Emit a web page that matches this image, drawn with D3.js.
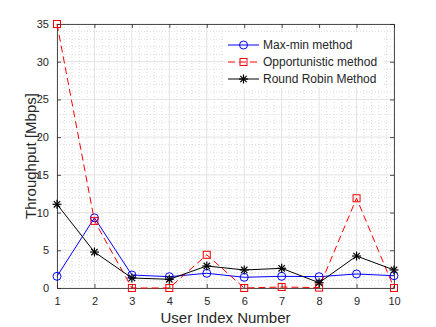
<!DOCTYPE html>
<html>
<head>
<meta charset="utf-8">
<script src="https://cdn.jsdelivr.net/npm/d3@7"></script>
<style>
  body { margin: 0; background: #fff; }
  text { font-family: "Liberation Sans", Arial, sans-serif; fill: #262626; }
</style>
</head>
<body>
<svg id="chart" width="436" height="327"></svg>
<script>
const users = [1, 2, 3, 4, 5, 6, 7, 8, 9, 10];
const maxMin = [1.55, 9.3, 1.72, 1.5, 1.95, 1.42, 1.55, 1.5, 1.86, 1.63];
const opportunistic = [35, 8.9, 0, 0, 4.4, 0, 0.13, 0.05, 11.9, 0];
const roundRobin = [11.1, 4.77, 1.33, 1.15, 2.92, 2.39, 2.61, 0.7, 4.24, 2.39];
const yTicks = [0, 5, 10, 15, 20, 25, 30, 35];

const margin = { top: 24, right: 42, bottom: 39, left: 57 };
const width = 436 - margin.left - margin.right;
const height = 327 - margin.top - margin.bottom;

const svg = d3.select("#chart");
const g = svg.append("g").attr("transform", `translate(${margin.left},${margin.top})`);

const x = d3.scaleLinear().domain([1, 10]).range([0, width]);
const y = d3.scaleLinear().domain([0, 35]).range([height, 0]);

// minor grid
const xMinor = d3.range(1, 10.001, 0.2).filter(v => Math.abs(v - Math.round(v)) > 0.01);
const yMinor = d3.range(0, 35.001, 1).filter(v => v % 5 !== 0);
g.selectAll(".xminor").data(xMinor).join("line")
    .attr("x1", d => x(d)).attr("x2", d => x(d))
    .attr("y1", 0).attr("y2", height)
    .attr("stroke", "#c8c8c8").attr("stroke-width", 0.6).attr("stroke-dasharray", "1,2");
g.selectAll(".yminor").data(yMinor).join("line")
    .attr("y1", d => y(d)).attr("y2", d => y(d))
    .attr("x1", 0).attr("x2", width)
    .attr("stroke", "#c8c8c8").attr("stroke-width", 0.6).attr("stroke-dasharray", "1,2");

// major grid
g.selectAll(".xmajor").data(users).join("line")
    .attr("x1", d => x(d)).attr("x2", d => x(d))
    .attr("y1", 0).attr("y2", height)
    .attr("stroke", "#e3e3e3").attr("stroke-width", 1);
g.selectAll(".ymajor").data(yTicks).join("line")
    .attr("y1", d => y(d)).attr("y2", d => y(d))
    .attr("x1", 0).attr("x2", width)
    .attr("stroke", "#e3e3e3").attr("stroke-width", 1);

// axes
const xAxis = d3.axisBottom(x).tickValues(users).tickSizeInner(-4).tickSizeOuter(0).tickPadding(9);
const yAxis = d3.axisLeft(y).tickValues(yTicks).tickSizeInner(-4).tickSizeOuter(0).tickPadding(8);
const gx = g.append("g").attr("transform", `translate(0,${height})`).call(xAxis);
const gy = g.append("g").call(yAxis);
g.append("g").call(d3.axisTop(x).tickValues(users).tickSizeInner(-4).tickSizeOuter(0).tickFormat(""));
g.append("g").attr("transform", `translate(${width},0)`)
    .call(d3.axisRight(y).tickValues(yTicks).tickSizeInner(-4).tickSizeOuter(0).tickFormat(""));
g.selectAll(".domain, .tick line").attr("stroke", "#262626").attr("stroke-width", 0.8);
g.selectAll(".tick text").attr("font-size", 11).attr("fill", "#262626")
    .style("font-family", "Liberation Sans, Arial, sans-serif");

// series
const series = [
    { name: "Max-min method", values: maxMin, color: "#0000ff", dash: null, marker: "circle", width: 1 },
    { name: "Opportunistic method", values: opportunistic, color: "#ff0000", dash: "7,4", marker: "square", width: 1 },
    { name: "Round Robin Method", values: roundRobin, color: "#000000", dash: null, marker: "star", width: 1 }
];

const line = d3.line().x((d, i) => x(users[i])).y(d => y(d));

function drawMarker(sel, type, color) {
    if (type === "circle") {
        sel.append("circle").attr("r", 4).attr("fill", "none").attr("stroke", color).attr("stroke-width", 1);
    } else if (type === "square") {
        sel.append("rect").attr("x", -3.5).attr("y", -3.5).attr("width", 7).attr("height", 7)
            .attr("fill", "none").attr("stroke", color).attr("stroke-width", 1);
    } else {
        const r = 4.5;
        [0, 45, 90, 135].forEach(a => {
            const rad = a * Math.PI / 180;
            sel.append("line")
                .attr("x1", -r * Math.cos(rad)).attr("y1", -r * Math.sin(rad))
                .attr("x2", r * Math.cos(rad)).attr("y2", r * Math.sin(rad))
                .attr("stroke", color).attr("stroke-width", 1.2);
        });
    }
}

const plot = g.append("g");
series.forEach(s => {
    plot.append("path").datum(s.values)
        .attr("fill", "none").attr("stroke", s.color).attr("stroke-width", s.width)
        .attr("stroke-dasharray", s.dash).attr("d", line);
    s.values.forEach((v, i) => {
        const m = plot.append("g").attr("transform", `translate(${x(users[i])},${y(v)})`);
        drawMarker(m, s.marker, s.color);
    });
});

// legend
const legend = g.append("g").attr("transform", `translate(${168},${8})`);
legend.append("rect").attr("x", 0).attr("y", 0).attr("width", 158).attr("height", 56).attr("fill", "#fff");
series.forEach((s, i) => {
    const row = legend.append("g").attr("transform", `translate(0,${13 + i * 17})`);
    row.append("line").attr("x1", 3).attr("x2", 34).attr("y1", 0).attr("y2", 0)
        .attr("stroke", s.color).attr("stroke-width", 1).attr("stroke-dasharray", s.dash);
    const m = row.append("g").attr("transform", "translate(18.5,0)");
    drawMarker(m, s.marker, s.color);
    row.append("text").attr("x", 38).attr("y", 0).attr("dy", "0.35em")
        .attr("font-size", 12).attr("fill", "#000").text(s.name);
});

// axis labels
svg.append("text").attr("x", margin.left + width / 2).attr("y", 323)
    .attr("text-anchor", "middle").attr("font-size", 15).text("User Index Number");
svg.append("text")
    .attr("transform", `translate(36,${margin.top + height / 2}) rotate(-90)`)
    .attr("text-anchor", "middle").attr("font-size", 15).text("Throughput [Mbps]");
</script>
</body>
</html>
